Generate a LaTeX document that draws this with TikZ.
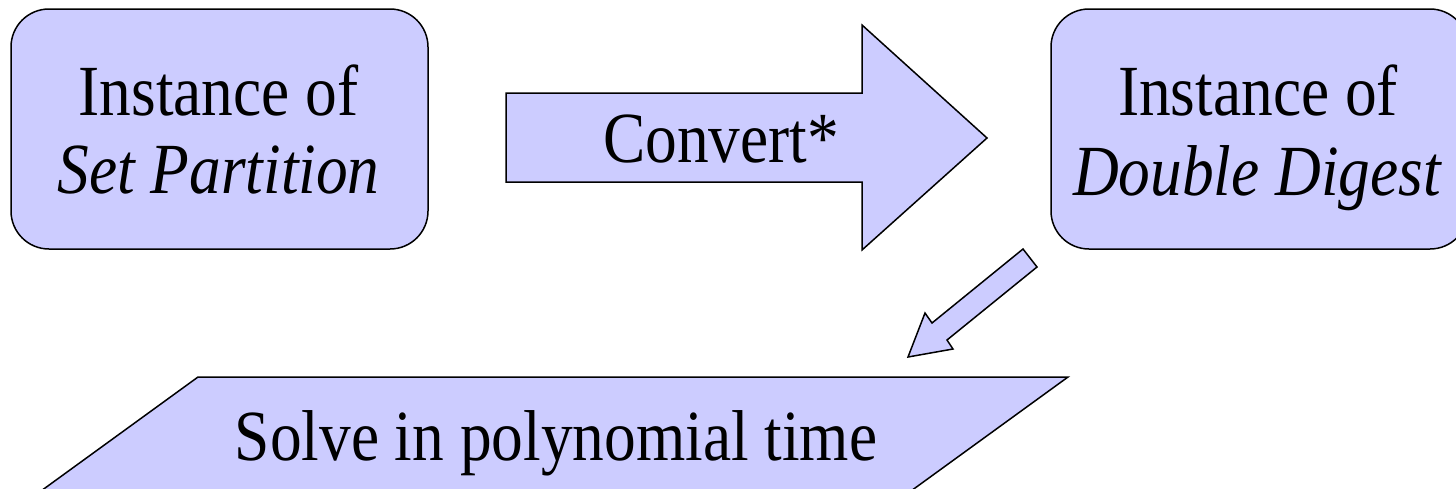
\documentclass[tikz,border=0pt]{standalone}
\usepackage{fontspec}
\usepackage{graphicx}
\setmainfont{Liberation Serif}
\definecolor{lav}{HTML}{CCCCFF}
\tikzset{
  shapefill/.style={fill=lav, draw=black, line width=0.75pt, line join=miter},
  boxshape/.style={shapefill, rectangle, rounded corners=19pt, inner sep=0pt},
  txt/.style={font=\fontsize{36pt}{40pt}\selectfont, inner sep=0pt, anchor=base},
}
\newcommand{\nx}[1]{\scalebox{0.88}[1]{#1}}
\begin{document}
\begin{tikzpicture}[x=0.5pt,y=-0.5pt]
\useasboundingbox (0,0) rectangle (1456,488);
\clip (0,0) rectangle (1456,488);
% boxes
\node[boxshape, minimum width=208.5pt, minimum height=120pt] (left) at (219.5,129) {};
\node[boxshape, minimum width=208.5pt, minimum height=120pt] (right) at (1259.5,129) {};
\node[txt] (l1) at (218.5,115) {\nx{Instance of}};
\node[txt] (l2) at (218.5,193) {\nx{\itshape Set Partition}};
\node[txt] (r1) at (1258,115) {\nx{Instance of}};
\node[txt] (r2) at (1257,195) {\nx{\itshape Double Digest}};
% big arrow
\draw[shapefill] (506,93) -- (862,93) -- (862,25) -- (987,138) -- (862,250) -- (862,182) -- (506,182) -- cycle;
\node[txt] (conv) at (721,162) {\nx{Convert*}};
% small arrow
\draw[shapefill] (1023,249) -- (1037,267) -- (947,340) -- (953,349) -- (908,357) -- (925,313) -- (932,323) -- cycle;
% parallelogram
\draw[shapefill] (198,377) -- (1068,377) -- (871,520) -- (1,520) -- cycle;
\node[txt] (solve) at (556,460) {\nx{Solve in polynomial time}};
\end{tikzpicture}
\end{document}
